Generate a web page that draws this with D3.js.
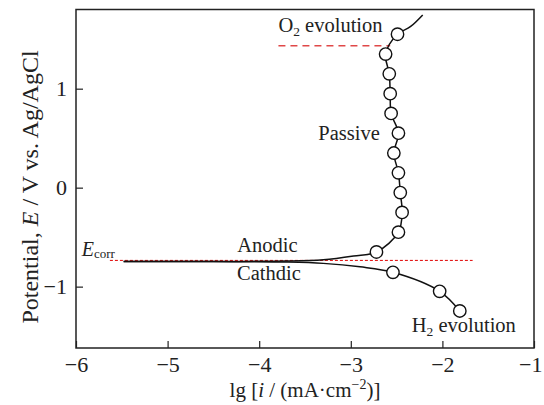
<!DOCTYPE html>
<html><head><meta charset="utf-8">
<script src="https://cdn.jsdelivr.net/npm/d3@7"></script>
<style>
html,body{margin:0;padding:0;background:#fff;}
svg text{font-family:"Liberation Serif","Times New Roman",serif;fill:#222;}
</style></head>
<body><svg id="c" width="544" height="405"></svg>
<script>
// ---- data ----
const xTicks = [-6, -5, -4, -3, -2, -1];
const yTicks = [-1, 0, 1];
// anodic branch curve (lg i, E)
const anodicLine = [[-5.48,-0.745],[-4.5,-0.745],[-3.7,-0.742],[-3.3,-0.728],[-2.97,-0.69],[-2.72,-0.65],
  [-2.48,-0.45],[-2.44,-0.25],[-2.46,-0.05],[-2.48,0.15],[-2.53,0.35],[-2.48,0.55],[-2.56,0.75],
  [-2.57,0.95],[-2.58,1.15],[-2.62,1.35],[-2.49,1.55],[-2.35,1.626],[-2.215,1.745]];
const anodicMarks = [[-2.72,-0.65],[-2.48,-0.45],[-2.44,-0.25],[-2.46,-0.05],[-2.48,0.15],[-2.53,0.35],
  [-2.48,0.55],[-2.56,0.75],[-2.57,0.95],[-2.58,1.15],[-2.62,1.35],[-2.49,1.55]];
// cathodic branch
const cathodicLine = [[-5.48,-0.745],[-4.5,-0.747],[-3.7,-0.752],[-3.3,-0.765],[-2.90,-0.80],[-2.54,-0.855],
  [-2.03,-1.047],[-1.81,-1.246]];
const cathodicMarks = [[-2.54,-0.855],[-2.03,-1.047],[-1.81,-1.246]];
const eCorr = -0.735, eCorrRange = [-5.63, -1.67];
const eO2 = 1.434, eO2Range = [-3.79, -2.57];

// ---- layout ----
const svg = d3.select("#c");
const x = d3.scaleLinear().domain([-6,-1]).range([76,534]);
const y = d3.scaleLinear().domain([-1.62,1.80]).range([348,9.5]);
const fs = 22;

// axes
const fmt = d => d3.format("")(d);
const gx = svg.append("g").attr("transform","translate(0,348)")
  .call(d3.axisBottom(x).tickValues(xTicks).tickSizeInner(-7).tickSizeOuter(0).tickPadding(8.5).tickFormat(fmt));
const gy = svg.append("g").attr("transform","translate(76,0)")
  .call(d3.axisLeft(y).tickValues(yTicks).tickSizeInner(-7).tickSizeOuter(0).tickPadding(9).tickFormat(fmt));
[gx,gy].forEach(g=>{
  g.select(".domain").remove();
  g.selectAll(".tick line").attr("stroke","#222").attr("stroke-width",1.2);
  g.selectAll(".tick text").attr("font-size",fs).attr("font-family","Liberation Serif, serif").attr("fill","#222");
});
// keep the last x tick label inside the canvas
gx.selectAll(".tick").filter(d=>d===-1).select("text").attr("text-anchor","end").attr("x",8);
// frame
svg.append("rect").attr("x",x(-6)).attr("y",y(1.80)).attr("width",x(-1)-x(-6)).attr("height",y(-1.62)-y(1.80))
  .attr("fill","none").attr("stroke","#222").attr("stroke-width",1.5);

// axis titles
const xt = svg.append("text").attr("x",(x(-6)+x(-1))/2).attr("y",397).attr("text-anchor","middle").attr("font-size",21);
xt.append("tspan").text("lg [");
xt.append("tspan").attr("font-style","italic").text("i");
xt.append("tspan").text(" / (mA·cm");
xt.append("tspan").attr("font-size",14).attr("dy",-8).text("−2");
xt.append("tspan").attr("dy",8).text(")]");

const yt = svg.append("text").attr("transform","translate(38,187) rotate(-90)").attr("text-anchor","middle").attr("font-size",24);
yt.append("tspan").text("Potential, ");
yt.append("tspan").attr("font-style","italic").text("E");
yt.append("tspan").text(" / V vs. Ag/AgCl");

// reference dashed lines
svg.append("line").attr("x1",x(eCorrRange[0])).attr("x2",x(eCorrRange[1])).attr("y1",y(eCorr)).attr("y2",y(eCorr))
  .attr("stroke","#e00000").attr("stroke-width",1).attr("stroke-dasharray","3,2");
svg.append("line").attr("x1",x(eO2Range[0])).attr("x2",x(eO2Range[1])).attr("y1",y(eO2)).attr("y2",y(eO2))
  .attr("stroke","#e04848").attr("stroke-width",1.4).attr("stroke-dasharray","7,5");

// curves
const line = d3.line().x(d=>x(d[0])).y(d=>y(d[1])).curve(d3.curveCatmullRom.alpha(0.5));
svg.append("path").datum(anodicLine).attr("d",line).attr("fill","none").attr("stroke","#111").attr("stroke-width",1.5);
svg.append("path").datum(cathodicLine).attr("d",line).attr("fill","none").attr("stroke","#111").attr("stroke-width",1.5);

// markers
svg.selectAll("circle.m").data(anodicMarks.concat(cathodicMarks)).join("circle").attr("class","m")
  .attr("cx",d=>x(d[0])).attr("cy",d=>y(d[1])).attr("r",6.2)
  .attr("fill","#fff").attr("stroke","#111").attr("stroke-width",1.4);

// annotations
function label(xv, yv, parts, size){
  const t = svg.append("text").attr("x",x(xv)).attr("y",y(yv)).attr("font-size",size||20.5);
  parts.forEach(p=>{
    const s = t.append("tspan").text(p.t);
    if(p.i) s.attr("font-style","italic");
    if(p.sub) s.attr("font-size",p.fs||13.5).attr("dy",p.dy||4);
    if(p.back) s.attr("dy",-(p.back));
  });
  return t;
}
label(-3.79, 1.570, [{t:"O"},{t:"2",sub:1,dy:4},{t:" evolution",back:4}]);
label(-3.355, 0.4815, [{t:"Passive"}]);
label(-4.239, -0.653, [{t:"Anodic"}]);
label(-4.242, -0.933, [{t:"Cathdic"}]);
label(-2.335, -1.455, [{t:"H"},{t:"2",sub:1,dy:4},{t:" evolution",back:4}]);
label(-5.938, -0.691, [{t:"E",i:1},{t:"corr",sub:1,fs:13,dy:2}], 20);
</script></body></html>
